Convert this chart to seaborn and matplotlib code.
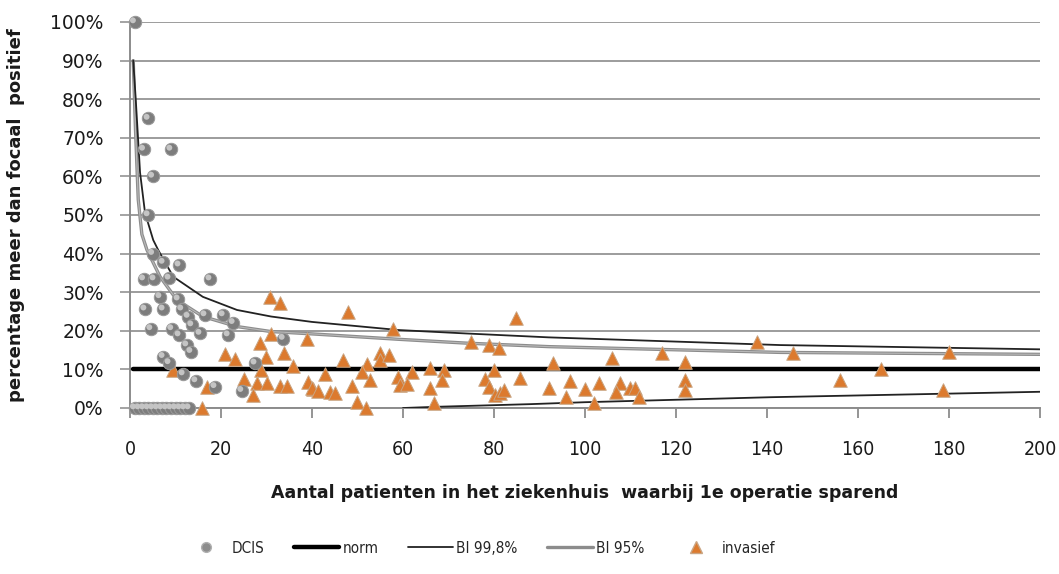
import matplotlib
matplotlib.use("Agg")
import matplotlib.pyplot as plt
import matplotlib.transforms as mtransforms
from matplotlib.lines import Line2D
from matplotlib.ticker import MultipleLocator, PercentFormatter
import numpy as np
import pandas as pd
import seaborn as sns

# --- DCIS hospitals: number of patients, % more than focal positive ---
dcis_n = [1, 4, 3, 9, 5, 4, 5, 7.3, 10.8, 3, 5.3, 8.6, 17.6, 6.6, 10.6,
          3.3, 7.3, 11.4, 12.8, 16.5, 20.5, 22.7, 13.6, 4.6, 9.2, 10.8,
          15.4, 21.6, 33.7, 12.5, 13.4, 7.3, 8.6, 11.7, 14.5, 18.7, 27.5,
          24.6, 1, 2, 3, 4, 5, 6, 7, 8, 9, 10, 11, 12, 13]
dcis_pct = [100, 75, 67, 67, 60, 50, 40, 37.7, 37, 33.4, 33.4, 33.6, 33.4,
            28.8, 28.2, 25.6, 25.6, 25.6, 23.7, 24.1, 24.1, 22.1, 21.5,
            20.5, 20.5, 18.9, 19.3, 18.9, 18.0, 16.3, 14.6, 13.3, 11.7,
            8.8, 7.0, 5.5, 11.6, 4.5, 0, 0, 0, 0, 0, 0, 0, 0, 0, 0, 0, 0, 0]

# --- invasive hospitals ---
inv_n = [9.5, 17, 15.8, 20.9, 23, 30.8, 33, 28.6, 31, 38.9, 29.9, 33.9,
         35.9, 28.8, 25.1, 27.9, 30.1, 32.9, 34.5, 27, 39.2, 40.2, 47.9,
         57.9, 84.9, 74.9, 78.8, 81, 46.9, 54.9, 55, 57, 52.1, 51, 42.9,
         40, 41.4, 44, 45.1, 48.8, 52.8, 49.9, 51.9, 59, 62, 59.4, 60.9,
         66, 68.9, 68.6, 66, 66.9, 79.9, 78.1, 78.8, 80.3, 81.4, 82.2,
         85.8, 92, 137.9, 117, 106, 122, 93, 122, 122, 96.8, 95.9, 99.9,
         103, 101.9, 107.8, 106.9, 109.9, 110.9, 111.9, 145.8, 180, 165,
         156, 178.8]
inv_pct = [9.8, 5.5, 0, 14.0, 12.6, 28.8, 27.1, 16.9, 19.1, 17.8, 13.3,
           14.3, 11.0, 9.8, 7.4, 6.6, 6.4, 5.7, 5.7, 3.4, 6.8, 4.8, 24.8,
           20.5, 23.2, 17.2, 16.3, 15.6, 12.4, 14.2, 12.4, 13.7, 11.3, 9.4,
           8.8, 5.1, 4.5, 4.2, 4.0, 5.7, 7.3, 1.6, 0, 8.1, 9.4, 6.0, 6.2,
           10.3, 9.8, 7.3, 5.3, 1.2, 9.8, 7.4, 5.5, 3.4, 3.8, 4.7, 7.7,
           5.1, 17.2, 14.3, 12.9, 12.0, 11.6, 7.3, 4.7, 7.0, 2.8, 4.8, 6.6,
           1.4, 6.6, 4.2, 5.3, 5.3, 2.9, 14.2, 14.6, 10.0, 7.3, 4.7]

# --- norm and confidence limits ---
norm_n = [0.7, 200]
norm_pct = [10, 10]

ci998_up_n = [0.7, 1.25, 2.2, 3.3, 5.1, 6.2, 9.5, 16, 23.5, 31, 40, 59,
              74, 92, 143, 200]
ci998_up_pct = [90, 80, 61, 50.5, 43.5, 40.9, 34, 28.8, 25.4, 23.7, 22.3,
                20.2, 19.3, 18.3, 16.3, 15.2]
ci998_lo_n = [60, 67, 88, 100, 141, 200]
ci998_lo_pct = [0, 0.3, 1.0, 1.5, 2.8, 4.2]

ci95_n = [0.7, 1.2, 1.8, 2.6, 3.7, 6.6, 10.3, 16, 23.5, 31, 40, 59, 74,
          92, 143, 200]
ci95_pct = [90, 72, 54, 45, 41, 34, 28, 23.7, 21.1, 19.8, 19.2, 17.8,
            16.8, 15.9, 14.4, 13.9]

x_ticks = list(range(0, 201, 20))

sns.set_theme(style="white")
plt.rcParams["font.family"] = ["DejaVu Sans"]

fig = plt.figure(figsize=(10.59, 5.74), dpi=100)
ax = fig.add_axes([0.1228, 0.2892, 0.8592, 0.6725])

dcis = pd.DataFrame({"n": dcis_n, "p": np.array(dcis_pct) / 100})
inv = pd.DataFrame({"n": inv_n, "p": np.array(inv_pct) / 100})

grey_line = "#8c8c8c"
orange = "#DC7A2E"

# confidence limits
sns.lineplot(x=ci95_n, y=np.array(ci95_pct) / 100, ax=ax, color=grey_line,
             lw=2.4, zorder=3)
sns.lineplot(x=ci95_n, y=np.array(ci95_pct) / 100, ax=ax, color="#b8b8b8",
             lw=0.8, zorder=3)
sns.lineplot(x=ci998_up_n, y=np.array(ci998_up_pct) / 100, ax=ax,
             color="#222222", lw=1.3, zorder=3)
sns.lineplot(x=ci998_lo_n, y=np.array(ci998_lo_pct) / 100, ax=ax,
             color="#222222", lw=1.3, zorder=3)
sns.lineplot(x=norm_n, y=np.array(norm_pct) / 100, ax=ax, color="black",
             lw=3.2, zorder=3)

# invasive: orange triangles
sns.scatterplot(data=inv, x="n", y="p", ax=ax, marker="^", s=95,
                color=orange, edgecolor="#c9a583", linewidth=0.7,
                zorder=4, clip_on=False)

# DCIS: grey spheres with a soft highlight
sns.scatterplot(data=dcis, x="n", y="p", ax=ax, marker="o", s=80,
                color="#7d7d7d", edgecolor="#9a9a9a", linewidth=0.7,
                zorder=5, clip_on=False)
hl = mtransforms.offset_copy(ax.transData, fig=fig, x=-1.2, y=1.2,
                             units="points")
ax.scatter(dcis["n"], dcis["p"], s=18, color="#c4c4c4", edgecolor="none",
           transform=hl, zorder=6, clip_on=False)

ax.set_xlim(0, 200)
ax.set_ylim(0, 1)
ax.xaxis.set_major_locator(MultipleLocator(20))
ax.yaxis.set_major_locator(MultipleLocator(0.1))
ax.yaxis.set_major_formatter(PercentFormatter(1.0, decimals=0))
ax.set_xticks(x_ticks)

ax.yaxis.grid(True, color="#9c9c9c", lw=1.4)
ax.xaxis.grid(False)
ax.set_axisbelow(True)
for side in ("top", "right"):
    ax.spines[side].set_visible(False)
for side in ("left", "bottom"):
    ax.spines[side].set_color("#8c8c8c")
    ax.spines[side].set_linewidth(1.4)
ax.tick_params(axis="x", direction="out", length=7, width=1.3,
               color="#8c8c8c", bottom=True, pad=16, labelsize=14,
               labelcolor="#1a1a1a")
ax.tick_params(axis="y", direction="out", length=7, width=1.3,
               color="#9c9c9c", left=True, pad=12, labelsize=13.5,
               labelcolor="#1a1a1a")
for lab in ax.get_xticklabels():
    lab.set_fontstretch("condensed")

ax.set_xlabel("Aantal patienten in het ziekenhuis  waarbij 1e operatie sparend",
              fontsize=12.5, fontweight="bold", color="#1a1a1a", labelpad=18)
ax.set_ylabel("percentage meer dan focaal  positief", fontsize=13,
              fontweight="bold", color="#1a1a1a", labelpad=18)

handles = [
    Line2D([], [], ls="none", marker="o", ms=7, color="#8d8d8d",
           markeredgecolor="#b0b0b0"),
    Line2D([], [], color="black", lw=3.2),
    Line2D([], [], color="#222222", lw=1.3),
    Line2D([], [], color=grey_line, lw=2.4),
    Line2D([], [], ls="none", marker="^", ms=8, color=orange,
           markeredgecolor="#c9a583"),
]
labels = ["DCIS", "norm", "BI 99,8%", "BI 95%", "invasief"]
fig.legend(handles, labels, loc="center", bbox_to_anchor=(0.4525, 0.045),
           ncol=5, frameon=False, handlelength=3.0,
           columnspacing=1.9, handletextpad=0.2,
           prop={"family": "DejaVu Sans", "stretch": "condensed",
                 "size": 11})

fig.savefig("out.png", dpi=100)
